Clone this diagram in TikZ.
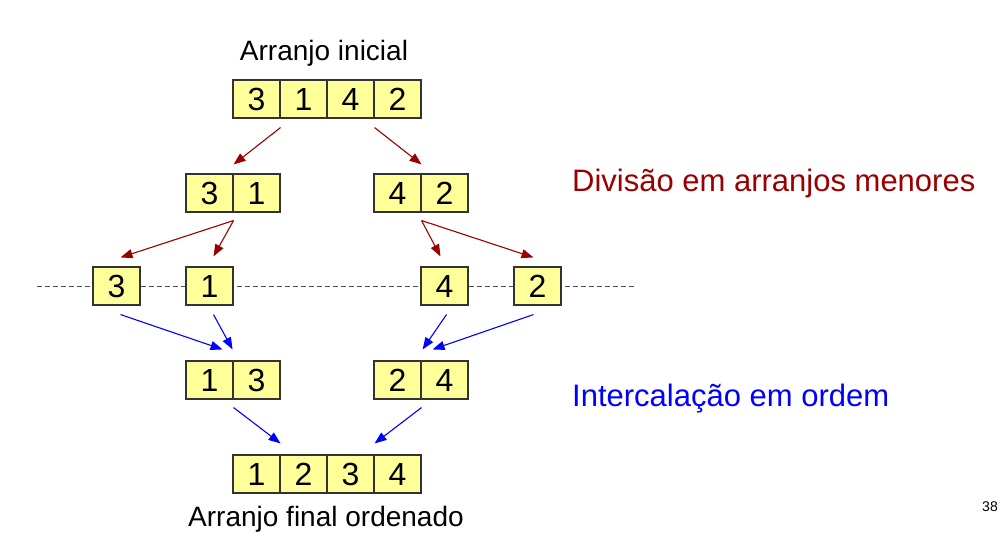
\documentclass[tikz,border=0pt]{standalone}
\usepackage{fontspec}
\setmainfont{Liberation Sans}
\usetikzlibrary{arrows.meta}
\definecolor{cellfill}{HTML}{FFFF99}
\definecolor{divred}{HTML}{990000}
\definecolor{mrgblue}{HTML}{0000FF}
\definecolor{cellline}{HTML}{333333}
\begin{document}
\begin{tikzpicture}[x=1pt,y=-1pt,
  cell/.style={draw=cellline,line width=1.1pt,fill=cellfill,minimum width=47pt,minimum height=38pt,inner sep=0pt,font=\fontsize{32}{36}\selectfont},
  lbl/.style={inner sep=0pt,font=\fontsize{28}{32}\selectfont},
  side/.style={inner sep=0pt,anchor=west,font=\fontsize{31}{36}\selectfont},
  divarrow/.style={draw=divred,line width=1.1pt,-{Triangle[length=12pt,width=9pt]}},
  mrgarrow/.style={draw=mrgblue,line width=1.1pt,-{Triangle[length=12pt,width=9pt]}},
  cut/.style={draw=black!70,line width=1pt,dash pattern=on 5pt off 3pt}]
\useasboundingbox (0,0) rectangle (1008,559);
% dashed line
\coordinate (dl) at (37,286);
\coordinate (dr) at (635,286);
\draw[cut] (dl) -- (dr);
% top
\node[lbl] (tlabel) at (324,53) {Arranjo inicial};
\node[cell] (t1) at (256.5,99) {3};
\node[cell] (t2) at (303.5,99) {1};
\node[cell] (t3) at (350.5,99) {4};
\node[cell] (t4) at (397.5,99) {2};
% level 2
\node[cell] (p1) at (209.5,193) {3};
\node[cell] (p2) at (256.5,193) {1};
\node[cell] (q1) at (397.5,193) {4};
\node[cell] (q2) at (444.5,193) {2};
% singles
\node[cell] (s3) at (116.5,286) {3};
\node[cell] (s1) at (209.5,286) {1};
\node[cell] (s4) at (444.5,286) {4};
\node[cell] (s2) at (537.5,286) {2};
% merged pairs
\node[cell] (m1) at (209.5,380) {1};
\node[cell] (m2) at (256.5,380) {3};
\node[cell] (n1) at (397.5,380) {2};
\node[cell] (n2) at (444.5,380) {4};
% final
\node[cell] (f1) at (256.5,474) {1};
\node[cell] (f2) at (303.5,474) {2};
\node[cell] (f3) at (350.5,474) {3};
\node[cell] (f4) at (397.5,474) {4};
\node[lbl] (flabel) at (326,519) {Arranjo final ordenado};
% side labels
\node[side,text=divred] (divlbl) at (572,183) {Divisão em arranjos menores};
\node[side,text=mrgblue] (mrglbl) at (572,399) {Intercalação em ordem};
\node[inner sep=0pt,font=\fontsize{14}{16}\selectfont] (pg) at (990,507) {38};
% division arrows
\draw[divarrow] ([yshift=-9pt]t1.south east) -- ([yshift=9pt]p1.north east);
\draw[divarrow] ([yshift=-9pt]t3.south east) -- ([yshift=9pt]q1.north east);
\draw[divarrow] ([yshift=-8pt]p1.south east) -- ([xshift=4pt,yshift=9pt]s3.north);
\draw[divarrow] ([yshift=-8pt]p1.south east) -- ([xshift=4pt,yshift=10pt]s1.north);
\draw[divarrow] ([yshift=-8pt]q1.south east) -- ([xshift=-4pt,yshift=10pt]s4.north);
\draw[divarrow] ([yshift=-8pt]q1.south east) -- ([xshift=-4pt,yshift=9pt]s2.north);
% merge arrows
\draw[mrgarrow] ([xshift=4pt,yshift=-9pt]s3.south) -- ([xshift=-11pt,yshift=11pt]m1.north east);
\draw[mrgarrow] ([xshift=4pt,yshift=-9pt]s1.south) -- ([xshift=-1pt,yshift=11pt]m1.north east);
\draw[mrgarrow] ([xshift=2pt,yshift=-9pt]s4.south) -- ([xshift=1pt,yshift=11pt]n1.north east);
\draw[mrgarrow] ([xshift=-4pt,yshift=-9pt]s2.south) -- ([xshift=11pt,yshift=11pt]n1.north east);
\draw[mrgarrow] ([yshift=-8pt]m1.south east) -- ([yshift=11pt]f1.north east);
\draw[mrgarrow] ([yshift=-8pt]n1.south east) -- ([yshift=11pt]f3.north east);
\end{tikzpicture}
\end{document}
